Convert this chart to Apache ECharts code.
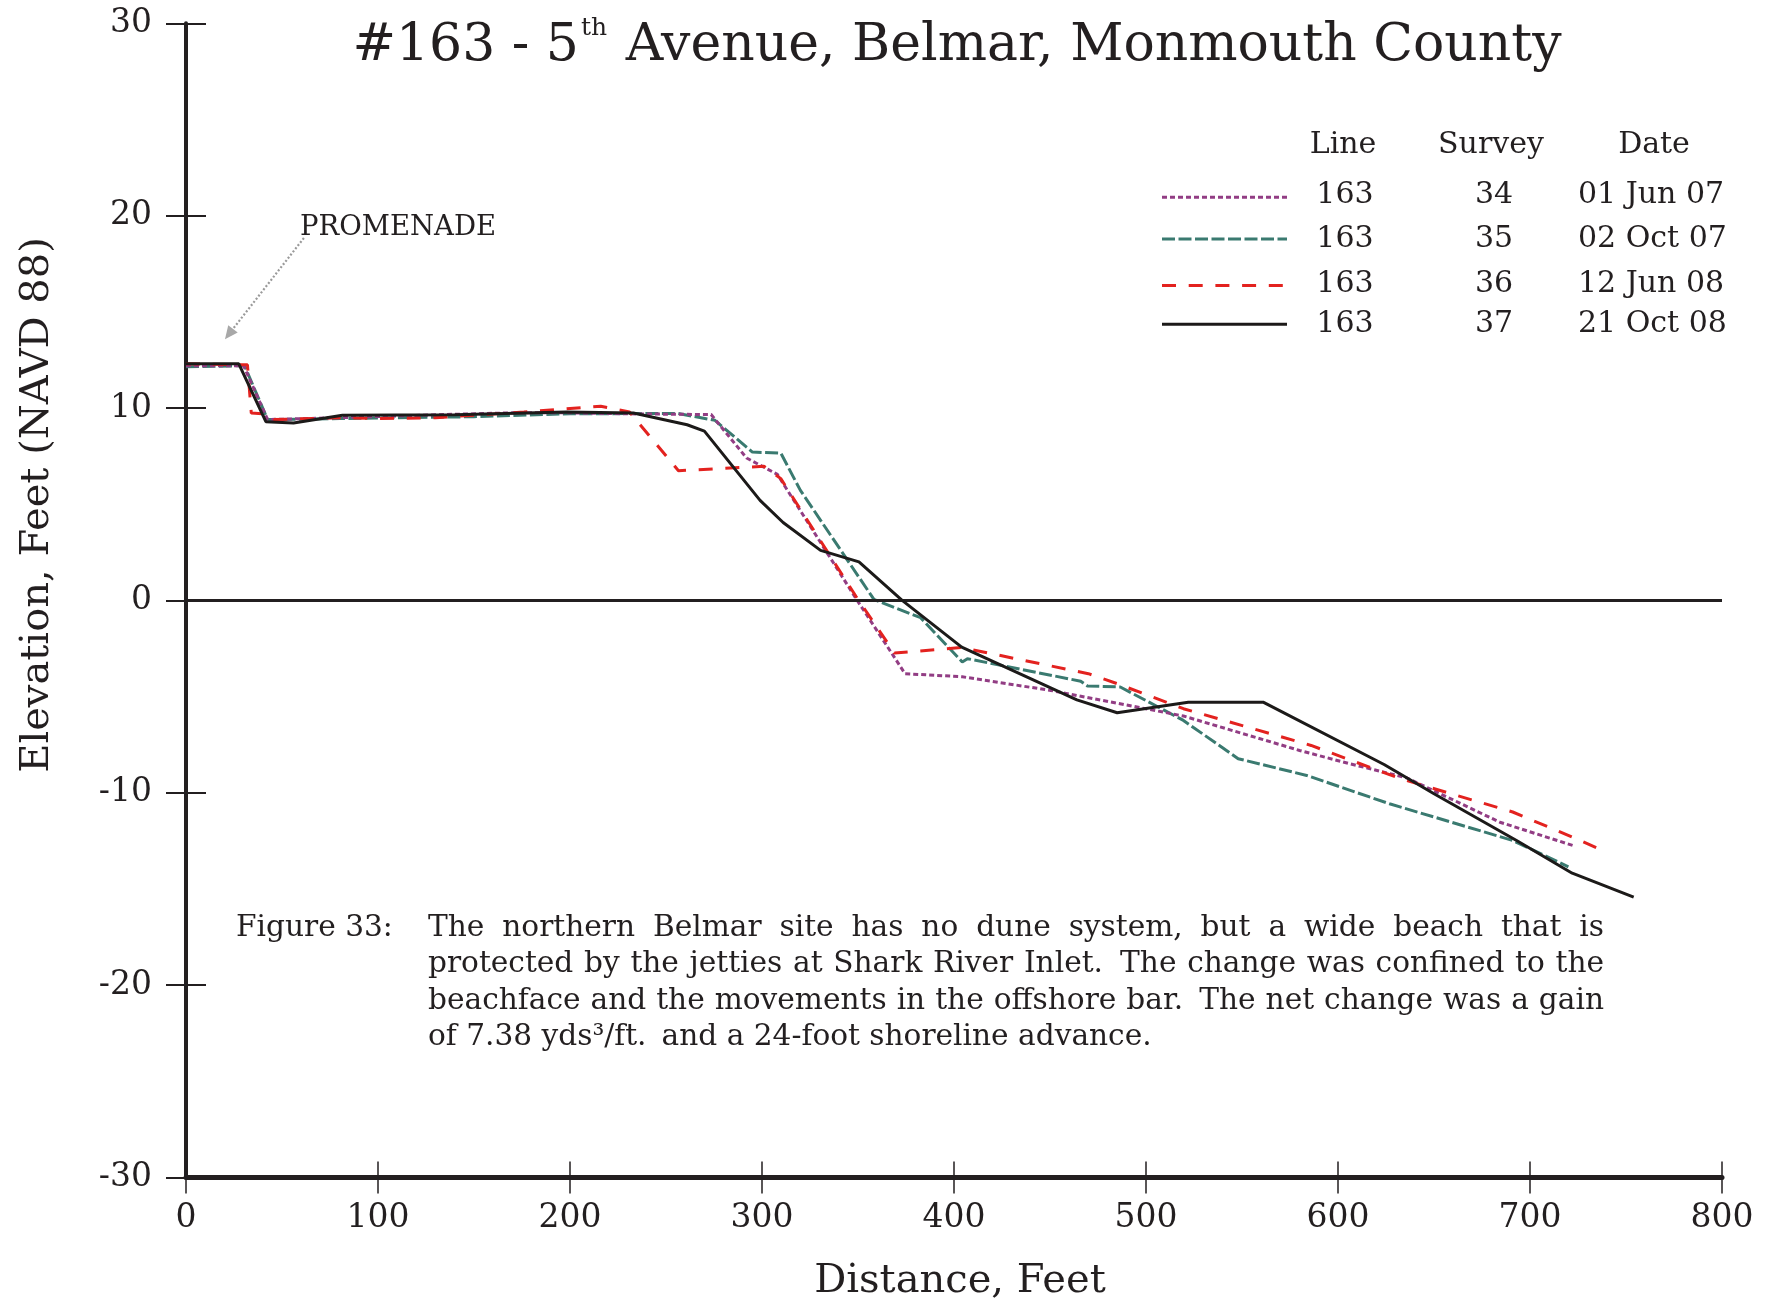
<!DOCTYPE html>
<html>
<head>
<meta charset="utf-8">
<title>#163 - 5th Avenue, Belmar, Monmouth County</title>
<script src="https://cdn.jsdelivr.net/npm/echarts@6/dist/echarts.min.js"></script>
<style>
  html, body { margin: 0; padding: 0; background: #ffffff; }
  #chart { width: 1779px; height: 1301px; }
</style>
</head>
<body>
<div id="chart"></div>
<script>
// Beach profile, line 163 (5th Avenue, Belmar): distance offshore (ft) vs elevation (ft, NAVD 88)

const distanceMin = 0, distanceMax = 800, distanceStep = 100;
const elevationMin = -30, elevationMax = 30, elevationStep = 10;

// Survey 34 - 01 Jun 07
const survey34 = [
  [0, 12.2], [30, 12.2], [42.5, 9.4], [80, 9.5], [130, 9.65], [170, 9.75], [200, 9.75],
  [230, 9.7], [273.5, 9.66], [292, 7.4], [308, 6.55], [349.6, 0], [374.5, -3.81],
  [404.3, -3.97], [450.4, -4.68], [519.5, -6.01], [580, -7.8], [606, -8.49],
  [635.7, -9.22], [684.3, -11.53], [722.3, -12.74]
];

// Survey 35 - 02 Oct 07
const survey35 = [
  [0, 12.15], [30.5, 12.2], [42.5, 9.4], [80, 9.45], [150, 9.55], [200, 9.7], [256, 9.72],
  [275.5, 9.36], [295, 7.71], [309.8, 7.66], [320, 5.72], [358.3, 0.05], [382.6, -0.9],
  [404.3, -3.2], [407, -3.03], [466, -4.2], [469.5, -4.45], [486.6, -4.5], [519.5, -6.24],
  [548, -8.23], [583.7, -9.1], [626.8, -10.57], [691, -12.48], [700, -12.9], [720, -13.85]
];

// Survey 36 - 12 Jun 08
const survey36 = [
  [0, 12.3], [32, 12.25], [34, 9.74], [41, 9.7], [46, 9.4], [80, 9.5], [100, 9.45],
  [130, 9.5], [176, 9.79], [216, 10.09], [231, 9.79], [256.5, 6.74], [301, 6.97],
  [309.8, 6.33], [349, 0.2], [369, -2.74], [404, -2.45], [470, -3.81], [485, -4.33],
  [519.5, -5.63], [586, -7.54], [632, -9.25], [691, -11.0], [722, -12.3], [734.5, -12.85]
];

// Survey 37 - 21 Oct 08
const survey37 = [
  [0, 12.3], [27.5, 12.3], [41.6, 9.29], [56, 9.22], [81.5, 9.63], [140, 9.65], [198, 9.8],
  [233, 9.74], [261, 9.13], [270, 8.8], [299, 5.2], [311, 4.05], [330.5, 2.6], [350.5, 2.0],
  [373, 0], [404, -2.43], [464, -5.17], [485, -5.84], [522, -5.29], [561, -5.29],
  [624, -8.53], [650, -10.05], [693, -12.48], [722, -14.18], [754, -15.43]
];

// legend table
const legendLines   = ['163', '163', '163', '163'];
const legendSurveys = ['34', '35', '36', '37'];
const legendDates   = ['01 Jun 07', '02 Oct 07', '12 Jun 08', '21 Oct 08'];

// promenade pointer (data coordinates): label end and arrow tip
const promenadeFrom = [61.4, 18.84];
const promenadeTip  = [20.3, 13.58];

const captionLabel = 'Figure 33:';
const captionLines = [
  'The northern Belmar site has no dune system, but a wide beach that is',
  'protected by the jetties at Shark River Inlet.  The change was confined to the',
  'beachface and the movements in the offshore bar.  The net change was a gain',
  'of 7.38 yds\u00B3/ft. and a 24-foot shoreline advance.'
];

const FONT = '"DejaVu Serif", "Liberation Serif", serif';
const INK = '#231f20';
const COLORS = { s34: '#923d84', s35: '#3a7a70', s36: '#e3221f', s37: '#1c1a19' };
const DASH = { s34: [5, 3], s35: [13, 3.5], s36: [14, 12.7], s37: 'solid' };

const chart = echarts.init(document.getElementById('chart'), null, { renderer: 'canvas' });

function lineSeries(name, data, key, z) {
  return {
    name: name,
    type: 'line',
    data: data,
    symbol: 'none',
    showSymbol: false,
    animation: false,
    z: z,
    lineStyle: { color: COLORS[key], width: 3, type: DASH[key] }
  };
}

const gridBox = { left: 186, right: 57, top: 23.3, bottom: 123.5 };

const s37 = lineSeries('37', survey37, 's37', 6);
s37.markLine = {
  silent: true,
  symbol: ['none', 'none'],
  animation: false,
  label: { show: false },
  lineStyle: { color: INK, width: 3, type: 'solid' },
  data: [{ yAxis: 0 }]
};

chart.setOption({
  backgroundColor: '#ffffff',
  animation: false,
  title: {
    text: '{m|#163 - 5}{s|th}{m| Avenue, Belmar, Monmouth County}',
    left: 952,
    top: 11,
    textAlign: 'center',
    textStyle: {
      fontWeight: 'normal',
      rich: {
        m: { fontFamily: FONT, fontSize: 52, fontWeight: 'normal', color: INK, lineHeight: 60 },
        s: { fontFamily: FONT, fontSize: 25, fontWeight: 'normal', color: INK, lineHeight: 60, verticalAlign: 'top', padding: [0, 2, 0, 2] }
      }
    }
  },
  grid: gridBox,
  xAxis: [
    {
      type: 'value', min: distanceMin, max: distanceMax, interval: distanceStep,
      position: 'bottom',
      axisLine: { show: true, onZero: false, lineStyle: { color: INK, width: 5 } },
      axisTick: { show: true, inside: false, length: 16, lineStyle: { color: INK, width: 1.5 } },
      axisLabel: { margin: 24, color: INK, fontFamily: FONT, fontSize: 33 },
      splitLine: { show: false }
    },
    {
      type: 'value', min: distanceMin, max: distanceMax, interval: distanceStep,
      position: 'bottom',
      axisLine: { show: false, onZero: false },
      axisTick: { show: true, inside: true, length: 16, lineStyle: { color: INK, width: 1.5 } },
      axisLabel: { show: false },
      splitLine: { show: false }
    }
  ],
  yAxis: [
    {
      type: 'value', min: elevationMin, max: elevationMax, interval: elevationStep,
      position: 'left',
      axisLine: { show: true, onZero: false, lineStyle: { color: INK, width: 4 } },
      axisTick: { show: true, inside: false, length: 20, lineStyle: { color: INK, width: 2 } },
      axisLabel: { margin: 34, color: INK, fontFamily: FONT, fontSize: 33 },
      splitLine: { show: false }
    },
    {
      type: 'value', min: elevationMin, max: elevationMax, interval: elevationStep,
      position: 'left',
      axisLine: { show: false, onZero: false },
      axisTick: { show: true, inside: true, length: 20, lineStyle: { color: INK, width: 2 } },
      axisLabel: { show: false },
      splitLine: { show: false }
    }
  ],
  series: [
    lineSeries('35', survey35, 's35', 3),
    lineSeries('34', survey34, 's34', 4),
    lineSeries('36', survey36, 's36', 5),
    s37
  ]
});

// ---- annotations, legend table and caption ----
const measureCtx = document.createElement('canvas').getContext('2d');
function textWidth(str, size) {
  measureCtx.font = size + 'px ' + FONT;
  return measureCtx.measureText(str).width;
}

function textEl(str, x, y, size, align, extra) {
  return Object.assign({
    type: 'text', x: x, y: y, silent: true, z: 20,
    style: { text: str, fill: INK, font: size + 'px ' + FONT, align: align || 'left', verticalAlign: 'middle' }
  }, extra || {});
}

const graphics = [];

// axis titles
graphics.push(textEl('Distance, Feet', 960, 1282, 40, 'center'));
graphics.push(textEl('Elevation, Feet (NAVD 88)', 38, 505, 40, 'center', { rotation: Math.PI / 2 }));

// promenade pointer
const pFrom = chart.convertToPixel({ gridIndex: 0 }, promenadeFrom);
const pTip = chart.convertToPixel({ gridIndex: 0 }, promenadeTip);
const ang = Math.atan2(pTip[1] - pFrom[1], pTip[0] - pFrom[0]);
const headLen = 13, headHalf = 6;
const base = [pTip[0] - headLen * Math.cos(ang), pTip[1] - headLen * Math.sin(ang)];
graphics.push({
  type: 'line', silent: true, z: 15,
  shape: { x1: pFrom[0], y1: pFrom[1], x2: base[0], y2: base[1] },
  style: { stroke: '#9a9a9a', lineWidth: 2.2, lineDash: [2, 2] }
});
graphics.push({
  type: 'polygon', silent: true, z: 15,
  shape: { points: [
    pTip,
    [base[0] + headHalf * Math.sin(ang), base[1] - headHalf * Math.cos(ang)],
    [base[0] - headHalf * Math.sin(ang), base[1] + headHalf * Math.cos(ang)]
  ] },
  style: { fill: '#a8a8a8' }
});
graphics.push(textEl('PROMENADE', 300, 228, 27.5, 'left'));

// legend table
graphics.push(textEl('Line', 1343, 145, 30, 'center'));
graphics.push(textEl('Survey', 1491, 145, 30, 'center'));
graphics.push(textEl('Date', 1654, 145, 30, 'center'));
const rowY = [195.5, 239.5, 284.5, 324.5];
const keyY = [197.3, 239, 285.5, 324.3];
const keys = ['s34', 's35', 's36', 's37'];
for (let i = 0; i < legendLines.length; i++) {
  const k = keys[i];
  graphics.push({
    type: 'line', silent: true, z: 15,
    shape: { x1: 1162, y1: keyY[i], x2: 1287, y2: keyY[i] },
    style: { stroke: COLORS[k], lineWidth: 3, lineDash: DASH[k] === 'solid' ? null : DASH[k] }
  });
  graphics.push(textEl(legendLines[i], 1345, rowY[i], 30, 'center'));
  graphics.push(textEl(legendSurveys[i], 1494, rowY[i], 30, 'center'));
  graphics.push(textEl(legendDates[i], 1578, rowY[i], 30, 'left'));
}

// caption, justified between captionLeft and captionRight
const captionLeft = 428, captionRight = 1604;
const captionY = [928, 964.5, 1001, 1037];

function splitWords(line) {
  const words = line.split(/ +/);
  const gaps = [];
  for (let i = 0; i < words.length - 1; i++) gaps.push(/\.$/.test(words[i]) ? 1.6 : 1);
  return { words: words, gaps: gaps };
}
function naturalWidth(line, size) {
  const p = splitWords(line);
  const sumW = p.words.reduce(function (a, w) { return a + textWidth(w, size); }, 0);
  const sumG = p.gaps.reduce(function (a, b) { return a + b; }, 0);
  return sumW + sumG * textWidth(' ', size);
}
// size the caption so its widest line sits just inside the column
let widest = 0;
captionLines.forEach(function (l) { widest = Math.max(widest, naturalWidth(l, 27)); });
const capSize = Math.min(31, 27 * (captionRight - captionLeft - 8) / widest);

graphics.push(textEl(captionLabel, 236, captionY[0], capSize, 'left'));
captionLines.forEach(function (line, li) {
  const p = splitWords(line);
  const wordW = p.words.map(function (w) { return textWidth(w, capSize); });
  const sumW = wordW.reduce(function (a, b) { return a + b; }, 0);
  const sumG = p.gaps.reduce(function (a, b) { return a + b; }, 0);
  const isLast = li === captionLines.length - 1;
  const unit = isLast ? textWidth(' ', capSize) : (captionRight - captionLeft - sumW) / sumG;
  let x = captionLeft;
  p.words.forEach(function (w, i) {
    graphics.push(textEl(w, x, captionY[li], capSize, 'left'));
    x += wordW[i] + (i < p.gaps.length ? p.gaps[i] * unit : 0);
  });
});

chart.setOption({ graphic: graphics });
</script>
</body>
</html>
